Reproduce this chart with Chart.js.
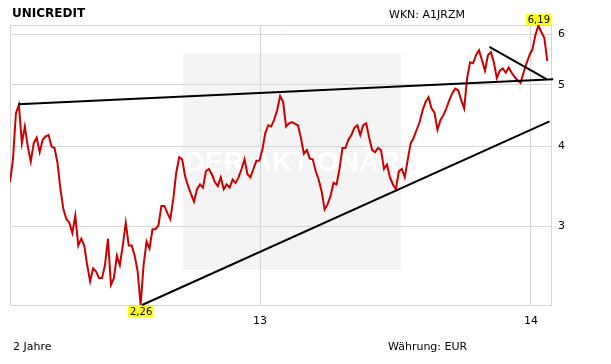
<!DOCTYPE html>
<html><head><meta charset="utf-8">
<script src="https://cdn.jsdelivr.net/npm/chart.js@4.4.1/dist/chart.umd.min.js"></script>
<style>
html,body{margin:0;padding:0;background:#fff;}
#wrap{position:relative;width:611px;height:364px;font-family:"DejaVu Sans",Verdana,sans-serif;color:#000;overflow:hidden;}
canvas{position:absolute;left:0;top:0;}
.t{position:absolute;font-size:11px;white-space:nowrap;line-height:1;}
</style></head><body>
<div id="wrap">
<canvas id="c" width="611" height="364"></canvas>
<div class="t" style="left:12px;top:7px;font-weight:bold;font-size:12px;">UNICREDIT</div>
<div class="t" style="left:389px;top:9px;">WKN: A1JRZM</div>
<div class="t" style="left:13px;top:341px;">2 Jahre</div>
<div class="t" style="left:388px;top:341px;">Währung: EUR</div>
</div>
<script>
// ---- data ----
const dates = [
'2012-01-30','2012-02-03','2012-02-07','2012-02-11','2012-02-15','2012-02-19','2012-02-23','2012-02-27','2012-03-02','2012-03-06',
'2012-03-10','2012-03-14','2012-03-18','2012-03-22','2012-03-26','2012-03-30','2012-04-03','2012-04-07','2012-04-11','2012-04-15',
'2012-04-19','2012-04-23','2012-04-27','2012-05-01','2012-05-05','2012-05-09','2012-05-13','2012-05-17','2012-05-21','2012-05-25',
'2012-05-29','2012-06-02','2012-06-06','2012-06-10','2012-06-14','2012-06-18','2012-06-22','2012-06-26','2012-06-30','2012-07-04',
'2012-07-08','2012-07-12','2012-07-16','2012-07-20','2012-07-24','2012-07-28','2012-08-01','2012-08-05','2012-08-09','2012-08-13',
'2012-08-17','2012-08-21','2012-08-25','2012-08-29','2012-09-02','2012-09-06','2012-09-10','2012-09-14','2012-09-18','2012-09-22',
'2012-09-26','2012-09-30','2012-10-04','2012-10-08','2012-10-12','2012-10-16','2012-10-20','2012-10-24','2012-10-28','2012-11-01',
'2012-11-05','2012-11-09','2012-11-13','2012-11-17','2012-11-21','2012-11-25','2012-11-29','2012-12-03','2012-12-07','2012-12-11',
'2012-12-15','2012-12-19','2012-12-23','2012-12-27','2012-12-31','2013-01-04','2013-01-08','2013-01-12','2013-01-16','2013-01-20',
'2013-01-24','2013-01-28','2013-02-01','2013-02-05','2013-02-09','2013-02-13','2013-02-17','2013-02-21','2013-02-25','2013-03-01',
'2013-03-05','2013-03-09','2013-03-13','2013-03-17','2013-03-21','2013-03-25','2013-03-29','2013-04-02','2013-04-06','2013-04-10',
'2013-04-14','2013-04-18','2013-04-22','2013-04-26','2013-04-30','2013-05-04','2013-05-08','2013-05-12','2013-05-16','2013-05-20',
'2013-05-24','2013-05-28','2013-06-01','2013-06-05','2013-06-09','2013-06-13','2013-06-17','2013-06-21','2013-06-25','2013-06-29',
'2013-07-03','2013-07-07','2013-07-11','2013-07-15','2013-07-19','2013-07-23','2013-07-27','2013-07-31','2013-08-04','2013-08-08',
'2013-08-12','2013-08-16','2013-08-20','2013-08-24','2013-08-28','2013-09-01','2013-09-05','2013-09-09','2013-09-13','2013-09-17',
'2013-09-21','2013-09-25','2013-09-29','2013-10-03','2013-10-07','2013-10-11','2013-10-15','2013-10-19','2013-10-23','2013-10-27',
'2013-10-31','2013-11-04','2013-11-08','2013-11-12','2013-11-16','2013-11-20','2013-11-24','2013-11-28','2013-12-02','2013-12-06',
'2013-12-10','2013-12-14','2013-12-18','2013-12-22','2013-12-26','2013-12-30','2014-01-03','2014-01-07','2014-01-11','2014-01-15',
'2014-01-19','2014-01-23'
];
const prices = [
3.52,3.82,4.51,4.65,4.05,4.30,4.00,3.79,4.05,4.13,
3.92,4.10,4.15,4.17,4.00,3.98,3.77,3.43,3.19,3.08,
3.04,2.93,3.12,2.80,2.87,2.80,2.61,2.46,2.58,2.55,
2.49,2.49,2.61,2.87,2.43,2.49,2.70,2.61,2.80,3.04,
2.80,2.80,2.70,2.55,2.26,2.61,2.84,2.77,2.97,2.97,
3.01,3.23,3.23,3.15,3.08,3.31,3.64,3.85,3.82,3.59,
3.47,3.37,3.28,3.43,3.49,3.45,3.66,3.69,3.62,3.52,
3.47,3.58,3.43,3.49,3.45,3.55,3.51,3.58,3.69,3.82,
3.62,3.58,3.69,3.80,3.80,3.95,4.20,4.32,4.30,4.41,
4.56,4.80,4.70,4.30,4.35,4.37,4.34,4.32,4.13,3.90,
3.95,3.83,3.82,3.66,3.55,3.40,3.19,3.25,3.35,3.51,
3.49,3.69,3.98,3.98,4.10,4.17,4.28,4.32,4.17,4.32,
4.35,4.13,3.95,3.92,3.98,3.95,3.69,3.75,3.58,3.49,
3.43,3.66,3.69,3.58,3.82,4.05,4.13,4.25,4.37,4.56,
4.70,4.78,4.59,4.52,4.25,4.40,4.48,4.59,4.73,4.85,
4.93,4.90,4.73,4.59,5.12,5.42,5.40,5.56,5.66,5.46,
5.26,5.56,5.62,5.42,5.12,5.26,5.30,5.22,5.32,5.22,
5.14,5.08,5.03,5.22,5.40,5.56,5.68,5.98,6.19,6.04,
5.92,5.45
];
// trend lines (date, price)
const trendUpper = [['2012-02-10', 4.66], ['2014-01-31', 5.10]];
const trendLower = [['2012-07-26', 2.26], ['2014-01-26', 4.38]];
const trendShort = [['2013-11-06', 5.73], ['2014-01-22', 5.10]];
// axes
const xRange = ['2012-01-30', '2014-01-28'];
const xTickDates = ['2013-01-01', '2014-01-01'];
const xTickLabels = ['13', '14'];
const yRange = [2.26, 6.2];
const yTicks = [3, 4, 5, 6];

const t = s => Date.parse(s);
const toPts = arr => arr.map(([d, v]) => ({x: t(d), y: v}));
const seriesPts = dates.map((d, i) => ({x: t(d), y: prices[i]}));
const fmt = v => v.toFixed(2).replace('.', ',');

const watermark = {
  id: 'watermark',
  beforeDraw(chart) {
    const {ctx, chartArea: a} = chart;
    const w = a.right - a.left, h = a.bottom - a.top;
    const x0 = a.left + w * 0.320, x1 = a.left + w * 0.723;
    const y0 = a.top + h * 0.10, y1 = a.top + h * 0.875;
    ctx.save();
    ctx.fillStyle = '#f4f4f4';
    ctx.fillRect(x0, y0, x1 - x0, y1 - y0);
    ctx.fillStyle = '#ffffff';
    ctx.font = 'bold 28px "Liberation Sans", Arial, sans-serif';
    ctx.textAlign = 'center';
    ctx.textBaseline = 'alphabetic';
    ctx.fillText('DER AKTIONÄR', (x0 + x1) / 2, a.top + h * 0.52);
    ctx.restore();
  }
};

const extremes = {
  id: 'extremes',
  afterDatasetsDraw(chart) {
    const meta = chart.getDatasetMeta(3);
    let iMax = 0, iMin = 0;
    prices.forEach((p, i) => { if (p > prices[iMax]) iMax = i; if (p < prices[iMin]) iMin = i; });
    const ctx = chart.ctx;
    ctx.save();
    ctx.font = '10px "DejaVu Sans", Verdana, sans-serif';
    ctx.textAlign = 'center';
    ctx.textBaseline = 'middle';
    const draw = (i, above) => {
      const pt = meta.data[i];
      const txt = fmt(prices[i]);
      const tw = ctx.measureText(txt).width + 3;
      const bh = 11;
      const top = above ? pt.y - bh : pt.y + 1;
      ctx.fillStyle = '#ffff1a';
      ctx.fillRect(Math.round(pt.x - tw / 2), Math.round(top), Math.round(tw), bh);
      ctx.fillStyle = '#000';
      ctx.fillText(txt, pt.x + 0.5, top + bh / 2 + 0.5);
    };
    draw(iMax, true);
    draw(iMin, false);
    ctx.restore();
  }
};

const lineStyle = {borderColor: '#000', borderWidth: 2, pointRadius: 0, fill: false, tension: 0, clip: false, order: 0};
const gridColor = '#d6d6d6';
const tickFont = {family: '"DejaVu Sans", Verdana, sans-serif', size: 11};

new Chart(document.getElementById('c'), {
  type: 'line',
  data: {
    datasets: [
      Object.assign({data: toPts(trendUpper)}, lineStyle),
      Object.assign({data: toPts(trendLower)}, lineStyle),
      Object.assign({data: toPts(trendShort)}, lineStyle),
      {data: seriesPts, borderColor: '#cc0000', borderWidth: 2, pointRadius: 0, fill: false, tension: 0, order: 1}
    ]
  },
  options: {
    responsive: false,
    animation: false,
    devicePixelRatio: 1,
    layout: {padding: {left: 10, top: 25, right: 0, bottom: 0}},
    plugins: {legend: {display: false}, tooltip: {enabled: false}},
    scales: {
      x: {
        type: 'linear',
        bounds: 'data',
        min: t(xRange[0]), max: t(xRange[1]),
        afterBuildTicks: s => {
          s.ticks = [t(xRange[0])].concat(xTickDates.map(t), [t(xRange[1])]).map(v => ({value: v}));
        },
        afterFit: s => { s.height = 59; },
        ticks: {
          autoSkip: false, maxRotation: 0, padding: 10, color: '#000', font: tickFont,
          callback: v => { const i = xTickDates.map(t).indexOf(v); return i >= 0 ? xTickLabels[i] : ''; }
        },
        grid: {color: gridColor, drawTicks: false, lineWidth: 1},
        border: {color: gridColor}
      },
      y: {
        type: 'logarithmic',
        position: 'right',
        bounds: 'data',
        min: yRange[0], max: yRange[1],
        afterBuildTicks: s => {
          s.ticks = [yRange[0]].concat(yTicks, [yRange[1]]).map(v => ({value: v}));
        },
        afterFit: s => { s.width = 60; },
        ticks: {
          autoSkip: false, padding: 7, color: '#000', font: tickFont,
          callback: v => yTicks.indexOf(v) >= 0 ? String(v) : ''
        },
        grid: {color: gridColor, drawTicks: false, lineWidth: 1},
        border: {color: gridColor}
      }
    }
  },
  plugins: [watermark, extremes]
});
</script>
</body></html>
